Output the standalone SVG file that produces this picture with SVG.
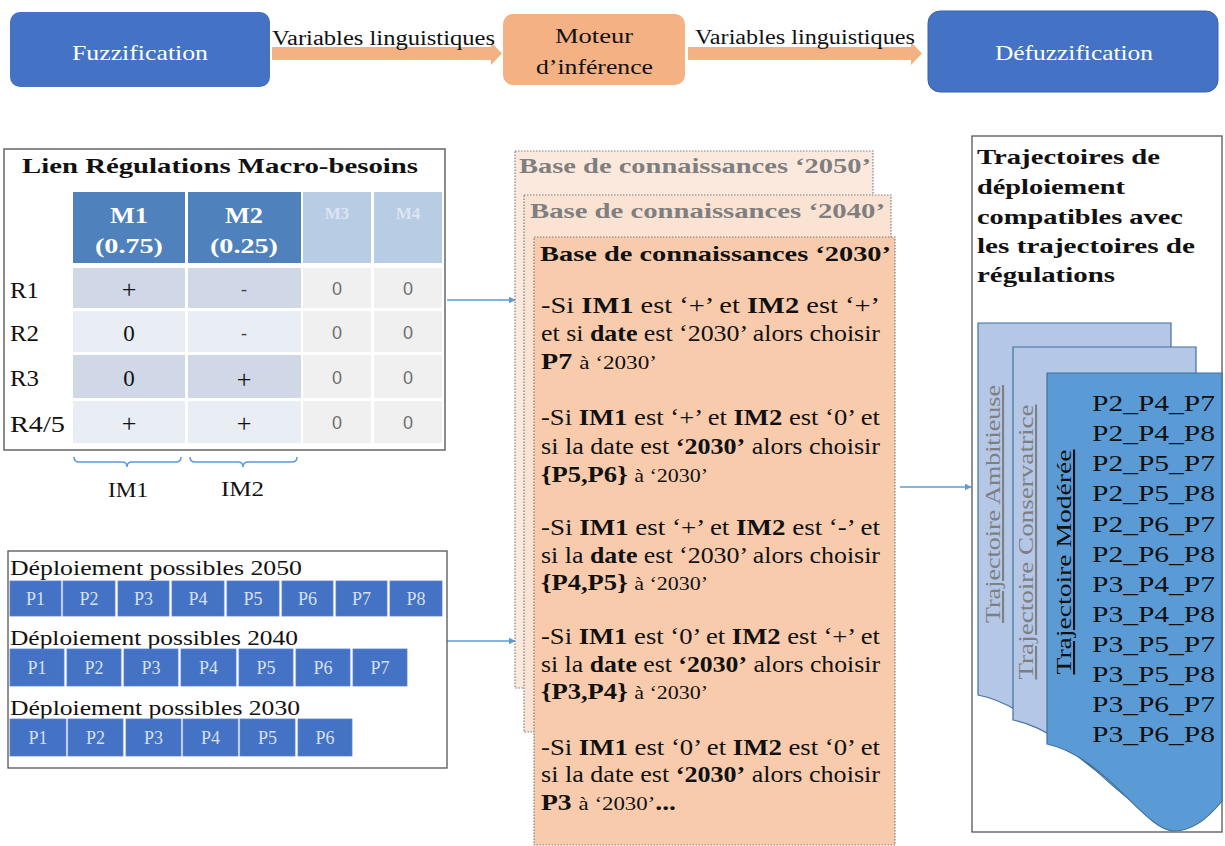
<svg xmlns="http://www.w3.org/2000/svg" width="1225" height="846" viewBox="0 0 1225 846">
<defs>
<style>
.sf{font-family:"Liberation Serif","DejaVu Serif","Times New Roman",serif;}
.ss{font-family:"Liberation Sans","DejaVu Sans",Arial,sans-serif;}
.b{font-weight:bold;}
.w{fill:#ffffff;}
.k{fill:#111111;}
.g{fill:#7f7f7f;}
.blue{fill:#4472C4;}
.hd{fill:#4F81BD;}
.hl{fill:#B8CCE4;}
.c1{fill:#D0D8E8;}
.c2{fill:#E9EDF4;}
.c3{fill:#F0F0F0;}
.pc{fill:#4472C4;stroke:#5a82cc;stroke-width:0.8;}
.pt{fill:#D6E0F2;font-size:18px;text-anchor:middle;}
.conn{stroke:#5B9BD5;stroke-width:1.5;fill:none;}
.orange{fill:#F4B183;}
.kb{stroke:#7f7f7f;stroke-width:1.2;stroke-dasharray:1.5 1.5;}
.rule{font-size:23px;}
.sm{font-size:19px;}
.doc{stroke:#41719C;stroke-width:1.2;}
</style>
<marker id="ah" viewBox="0 0 10 10" refX="9" refY="5" markerWidth="7" markerHeight="7" orient="auto" markerUnits="userSpaceOnUse">
<path d="M0,0 L10,5 L0,10 Z" fill="#5B9BD5"/>
</marker>
</defs>
<rect width="1225" height="846" fill="#ffffff"/>

<g id="fuzzification">
<rect x="10" y="12" width="260" height="75" rx="10" class="blue"/>
<text x="72" y="60" class="sf w" font-size="21" textLength="136" lengthAdjust="spacingAndGlyphs">Fuzzification</text>
</g>

<g id="moteur">
<rect x="503" y="14" width="182" height="71" rx="10" class="orange"/>
<text x="555" y="43" class="sf k" font-size="21" textLength="78" lengthAdjust="spacingAndGlyphs">Moteur</text>
<text x="536" y="74" class="sf k" font-size="21" textLength="117" lengthAdjust="spacingAndGlyphs">d’inférence</text>
</g>

<g id="defuzzification">
<rect x="928" y="11" width="290" height="81" rx="12" class="blue" stroke="#3a62ad" stroke-width="1"/>
<text x="995" y="60" class="sf w" font-size="21" textLength="158" lengthAdjust="spacingAndGlyphs">Défuzzification</text>
</g>

<g id="connectors">
<polygon points="272,47 491,47 491,42 502,53.5 491,65 491,60 272,60" class="orange"/>
<text x="272" y="45" class="sf k" font-size="20" textLength="223" lengthAdjust="spacingAndGlyphs">Variables linguistiques</text>
<polygon points="688,47 911,47 911,42 922,53.5 911,65 911,60 688,60" class="orange"/>
<text x="695" y="44" class="sf k" font-size="20" textLength="220" lengthAdjust="spacingAndGlyphs">Variables linguistiques</text>
<line x1="447" y1="300" x2="515" y2="300" class="conn" marker-end="url(#ah)"/>
<line x1="447" y1="641" x2="515" y2="641" class="conn" marker-end="url(#ah)"/>
<line x1="900" y1="487" x2="971" y2="487" class="conn" marker-end="url(#ah)"/>
</g>

<g id="table-regulations">
<rect x="4" y="149" width="441" height="301" fill="#ffffff" stroke="#666666" stroke-width="1.5"/>
<text x="22" y="173" class="sf b k" font-size="21" textLength="396" lengthAdjust="spacingAndGlyphs">Lien Régulations Macro-besoins</text>
<rect x="73" y="192" width="112" height="71" class="hd"/>
<rect x="188" y="192" width="113" height="71" class="hd"/>
<rect x="303" y="192" width="68" height="71" class="hl"/>
<rect x="374" y="192" width="68" height="71" class="hl"/>
<text x="110" y="223" class="sf b w" font-size="23" textLength="38" lengthAdjust="spacingAndGlyphs">M1</text>
<text x="95" y="253" class="sf b w" font-size="22" textLength="68" lengthAdjust="spacingAndGlyphs">(0.75)</text>
<text x="225" y="223" class="sf b w" font-size="23" textLength="38" lengthAdjust="spacingAndGlyphs">M2</text>
<text x="210" y="253" class="sf b w" font-size="22" textLength="68" lengthAdjust="spacingAndGlyphs">(0.25)</text>
<text x="337" y="219" class="sf b" fill="#DCE5F2" font-size="17" text-anchor="middle">M3</text>
<text x="408" y="219" class="sf b" fill="#DCE5F2" font-size="17" text-anchor="middle">M4</text>
<rect x="73" y="268" width="112" height="40" class="c1"/>
<rect x="188" y="268" width="113" height="40" class="c1"/>
<rect x="303" y="268" width="68" height="40" class="c3"/>
<rect x="374" y="268" width="68" height="40" class="c3"/>
<rect x="73" y="311" width="112" height="41" class="c2"/>
<rect x="188" y="311" width="113" height="41" class="c2"/>
<rect x="303" y="311" width="68" height="41" class="c3"/>
<rect x="374" y="311" width="68" height="41" class="c3"/>
<rect x="73" y="355" width="112" height="43" class="c1"/>
<rect x="188" y="355" width="113" height="43" class="c1"/>
<rect x="303" y="355" width="68" height="43" class="c3"/>
<rect x="374" y="355" width="68" height="43" class="c3"/>
<rect x="73" y="401" width="112" height="42" class="c2"/>
<rect x="188" y="401" width="113" height="42" class="c2"/>
<rect x="303" y="401" width="68" height="42" class="c3"/>
<rect x="374" y="401" width="68" height="42" class="c3"/>
<g class="sf k" font-size="23">
<text x="10" y="298" textLength="29" lengthAdjust="spacingAndGlyphs">R1</text>
<text x="10" y="341" textLength="29" lengthAdjust="spacingAndGlyphs">R2</text>
<text x="10" y="386" textLength="29" lengthAdjust="spacingAndGlyphs">R3</text>
<text x="10" y="432" textLength="55" lengthAdjust="spacingAndGlyphs">R4/5</text>
</g>
<g class="sf k" font-size="26" text-anchor="middle">
<text x="129" y="298">+</text>
<text x="244" y="295" font-size="18" fill="#444444">-</text>
<text x="129" y="341" font-size="23">0</text>
<text x="244" y="339" font-size="18" fill="#444444">-</text>
<text x="129" y="386" font-size="23">0</text>
<text x="244" y="388">+</text>
<text x="129" y="432">+</text>
<text x="244" y="432">+</text>
</g>
<g class="ss" fill="#6f6f6f" font-size="18" text-anchor="middle">
<text x="337" y="295">0</text>
<text x="408" y="295">0</text>
<text x="337" y="339">0</text>
<text x="408" y="339">0</text>
<text x="337" y="384">0</text>
<text x="408" y="384">0</text>
<text x="337" y="429">0</text>
<text x="408" y="429">0</text>
</g>
</g>

<g id="im-braces">
<path d="M74,457 Q74,462 79,462 H122 Q127,462 127,467 Q127,462 132,462 H176 Q181,462 181,457" class="conn" stroke-width="1.3"/>
<path d="M190,457 Q190,462 195,462 H238 Q243,462 243,467 Q243,462 248,462 H292 Q297,462 297,457" class="conn" stroke-width="1.3"/>
<text x="108" y="497" class="sf k" font-size="22" textLength="40" lengthAdjust="spacingAndGlyphs">IM1</text>
<text x="221" y="496" class="sf k" font-size="22" textLength="43" lengthAdjust="spacingAndGlyphs">IM2</text>
</g>

<g id="deploiements">
<rect x="8" y="551" width="439" height="217" fill="#ffffff" stroke="#555555" stroke-width="1.3"/>
<text x="10" y="575" class="sf k" font-size="21" textLength="292" lengthAdjust="spacingAndGlyphs">Déploiement possibles 2050</text>
<rect x="10" y="581" width="51" height="35" class="pc"/>
<rect x="63" y="581" width="52" height="35" class="pc"/>
<rect x="118" y="581" width="51" height="35" class="pc"/>
<rect x="172" y="581" width="52" height="35" class="pc"/>
<rect x="227" y="581" width="52" height="35" class="pc"/>
<rect x="282" y="581" width="51" height="35" class="pc"/>
<rect x="336" y="581" width="51" height="35" class="pc"/>
<rect x="390" y="581" width="52" height="35" class="pc"/>
<g class="sf pt">
<text x="35.5" y="605">P1</text><text x="89" y="605">P2</text><text x="143.5" y="605">P3</text><text x="198" y="605">P4</text><text x="253" y="605">P5</text><text x="307.5" y="605">P6</text><text x="361.5" y="605">P7</text><text x="416" y="605">P8</text>
</g>
<text x="10" y="645" class="sf k" font-size="21" textLength="288" lengthAdjust="spacingAndGlyphs">Déploiement possibles 2040</text>
<rect x="10" y="649" width="54" height="37" class="pc"/>
<rect x="67" y="649" width="54" height="37" class="pc"/>
<rect x="124" y="649" width="54" height="37" class="pc"/>
<rect x="181" y="649" width="55" height="37" class="pc"/>
<rect x="239" y="649" width="54" height="37" class="pc"/>
<rect x="296" y="649" width="54" height="37" class="pc"/>
<rect x="353" y="649" width="54" height="37" class="pc"/>
<g class="sf pt">
<text x="37" y="674">P1</text><text x="94" y="674">P2</text><text x="151" y="674">P3</text><text x="208.5" y="674">P4</text><text x="266" y="674">P5</text><text x="323" y="674">P6</text><text x="380" y="674">P7</text>
</g>
<text x="10" y="715" class="sf k" font-size="21" textLength="290" lengthAdjust="spacingAndGlyphs">Déploiement possibles 2030</text>
<rect x="10" y="719" width="56" height="37" class="pc"/>
<rect x="68" y="719" width="55" height="37" class="pc"/>
<rect x="126" y="719" width="55" height="37" class="pc"/>
<rect x="183" y="719" width="55" height="37" class="pc"/>
<rect x="240" y="719" width="55" height="37" class="pc"/>
<rect x="298" y="719" width="54" height="37" class="pc"/>
<g class="sf pt">
<text x="38" y="744">P1</text><text x="95.5" y="744">P2</text><text x="153.5" y="744">P3</text><text x="210.5" y="744">P4</text><text x="267.5" y="744">P5</text><text x="325" y="744">P6</text>
</g>
</g>

<g id="kb-2050">
<rect x="515" y="151" width="358" height="537" fill="#FCE9DD" class="kb"/>
<text x="519" y="173" class="sf b g" font-size="21" textLength="352" lengthAdjust="spacingAndGlyphs">Base de connaissances ‘2050’</text>
</g>
<g id="kb-2040">
<rect x="524" y="195" width="367" height="537" fill="#FBE3D4" class="kb"/>
<text x="530" y="218" class="sf b g" font-size="21" textLength="355" lengthAdjust="spacingAndGlyphs">Base de connaissances ‘2040’</text>
</g>
<g id="kb-2030">
<rect x="534" y="237" width="361" height="608" fill="#F8CBAD" class="kb"/>
<text x="540" y="261" class="sf b k" font-size="21" textLength="351" lengthAdjust="spacingAndGlyphs">Base de connaissances ‘2030’</text>
<g class="sf k rule">
<text x="541" y="313" textLength="339" lengthAdjust="spacingAndGlyphs">-Si <tspan class="b">IM1</tspan> est ‘+’ et <tspan class="b">IM2</tspan> est ‘+’</text>
<text x="541" y="341" textLength="339" lengthAdjust="spacingAndGlyphs">et si <tspan class="b">date</tspan> est ‘2030’ alors choisir</text>
<text x="541" y="369" textLength="116" lengthAdjust="spacingAndGlyphs"><tspan class="b">P7</tspan> <tspan class="sm">à ‘2030’</tspan></text>

<text x="541" y="425" textLength="339" lengthAdjust="spacingAndGlyphs">-Si <tspan class="b">IM1</tspan> est ‘+’ et <tspan class="b">IM2</tspan> est ‘0’ et</text>
<text x="541" y="454" textLength="339" lengthAdjust="spacingAndGlyphs">si la date est <tspan class="b">‘2030’</tspan> alors choisir</text>
<text x="541" y="482" textLength="167" lengthAdjust="spacingAndGlyphs"><tspan class="b">{P5,P6}</tspan> <tspan class="sm">à ‘2030’</tspan></text>

<text x="541" y="535" textLength="339" lengthAdjust="spacingAndGlyphs">-Si <tspan class="b">IM1</tspan> est ‘+’ et <tspan class="b">IM2</tspan> est ‘-’ et</text>
<text x="541" y="563" textLength="339" lengthAdjust="spacingAndGlyphs">si la <tspan class="b">date</tspan> est ‘2030’ alors choisir</text>
<text x="541" y="590" textLength="167" lengthAdjust="spacingAndGlyphs"><tspan class="b">{P4,P5}</tspan> <tspan class="sm">à ‘2030’</tspan></text>

<text x="541" y="644" textLength="339" lengthAdjust="spacingAndGlyphs">-Si <tspan class="b">IM1</tspan> est ‘0’ et <tspan class="b">IM2</tspan> est ‘+’ et</text>
<text x="541" y="672" textLength="339" lengthAdjust="spacingAndGlyphs">si la <tspan class="b">date</tspan> est <tspan class="b">‘2030’</tspan> alors choisir</text>
<text x="541" y="699" textLength="167" lengthAdjust="spacingAndGlyphs"><tspan class="b">{P3,P4}</tspan> <tspan class="sm">à ‘2030’</tspan></text>

<text x="541" y="755" textLength="339" lengthAdjust="spacingAndGlyphs">-Si <tspan class="b">IM1</tspan> est ‘0’ et <tspan class="b">IM2</tspan> est ‘0’ et</text>
<text x="541" y="782" textLength="339" lengthAdjust="spacingAndGlyphs">si la date est <tspan class="b">‘2030’</tspan> alors choisir</text>
<text x="541" y="810" textLength="135" lengthAdjust="spacingAndGlyphs"><tspan class="b">P3</tspan> <tspan class="sm">à ‘2030’</tspan><tspan class="b">...</tspan></text>
</g>
</g>

<g id="trajectoires">
<rect x="972" y="136" width="250" height="696" fill="#ffffff" stroke="#555555" stroke-width="1.3"/>
<g class="sf b k" font-size="21">
<text x="977" y="164" textLength="183" lengthAdjust="spacingAndGlyphs">Trajectoires de</text>
<text x="977" y="194" textLength="148" lengthAdjust="spacingAndGlyphs">déploiement</text>
<text x="977" y="224" textLength="206" lengthAdjust="spacingAndGlyphs">compatibles avec</text>
<text x="977" y="253" textLength="218" lengthAdjust="spacingAndGlyphs">les trajectoires de</text>
<text x="977" y="282" textLength="138" lengthAdjust="spacingAndGlyphs">régulations</text>
</g>
</g>

<g id="trajectoire-ambitieuse">
<path d="M978,323 H1171 V751 C1158,766 1142,781 1121,781 C1090,781 1040,707 978,695 Z" fill="#B4C7E7" class="doc"/>
<text transform="translate(992,504) rotate(-90)" x="0" y="8" class="sf g" font-size="21" text-anchor="middle" text-decoration="underline" textLength="238" lengthAdjust="spacingAndGlyphs">Trajectoire Ambitieuse</text>
</g>
<g id="trajectoire-conservatrice">
<path d="M1013,347 H1196 V776 C1184,791 1168,806 1148,806 C1118,806 1075,732 1013,720 Z" fill="#B4C7E7" class="doc"/>
<text transform="translate(1025,542) rotate(-90)" x="0" y="8" class="sf g" font-size="21" text-anchor="middle" text-decoration="underline" textLength="275" lengthAdjust="spacingAndGlyphs">Trajectoire Conservatrice</text>
</g>
<g id="trajectoire-moderee">
<path d="M1047,373 H1222 V801 C1210,816 1194,831 1174,831 C1145,831 1105,756 1047,744 Z" fill="#5B9BD5" class="doc"/>
<text transform="translate(1063,562) rotate(-90)" x="0" y="8" class="sf k" font-size="21" text-anchor="middle" text-decoration="underline" textLength="225" lengthAdjust="spacingAndGlyphs">Trajectoire Modérée</text>
<g class="sf k" font-size="23">
<text x="1092" y="411" textLength="123" lengthAdjust="spacingAndGlyphs">P2_P4_P7</text>
<text x="1092" y="441" textLength="123" lengthAdjust="spacingAndGlyphs">P2_P4_P8</text>
<text x="1092" y="471" textLength="123" lengthAdjust="spacingAndGlyphs">P2_P5_P7</text>
<text x="1092" y="501" textLength="123" lengthAdjust="spacingAndGlyphs">P2_P5_P8</text>
<text x="1092" y="532" textLength="123" lengthAdjust="spacingAndGlyphs">P2_P6_P7</text>
<text x="1092" y="562" textLength="123" lengthAdjust="spacingAndGlyphs">P2_P6_P8</text>
<text x="1092" y="592" textLength="123" lengthAdjust="spacingAndGlyphs">P3_P4_P7</text>
<text x="1092" y="622" textLength="123" lengthAdjust="spacingAndGlyphs">P3_P4_P8</text>
<text x="1092" y="652" textLength="123" lengthAdjust="spacingAndGlyphs">P3_P5_P7</text>
<text x="1092" y="682" textLength="123" lengthAdjust="spacingAndGlyphs">P3_P5_P8</text>
<text x="1092" y="712" textLength="123" lengthAdjust="spacingAndGlyphs">P3_P6_P7</text>
<text x="1092" y="742" textLength="123" lengthAdjust="spacingAndGlyphs">P3_P6_P8</text>
</g>
</g>
</svg>
